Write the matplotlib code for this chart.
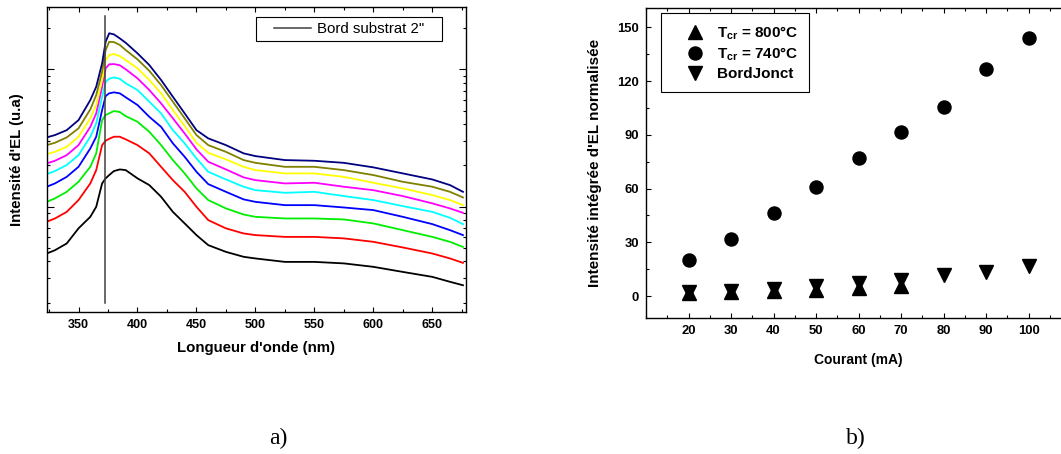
import numpy as np
import matplotlib
matplotlib.use("Agg")
import matplotlib.pyplot as plt
from matplotlib.patches import Rectangle
from matplotlib.ticker import MultipleLocator, LogLocator, NullFormatter

plt.rcParams['font.family'] = ['Liberation Sans', 'DejaVu Sans']
plt.rcParams['font.weight'] = 'bold'
plt.rcParams['mathtext.fontset'] = 'custom'
plt.rcParams['mathtext.rm'] = 'Liberation Sans:bold'
plt.rcParams['mathtext.bf'] = 'Liberation Sans:bold'

# --- a) spectres d'EL, log10 de l'intensité (u.a) ---
longueur_onde = [323, 330, 340, 350, 360, 365, 370, 373, 376, 380, 385, 390, 400, 410, 420,
                 430, 440, 450, 460, 475, 490, 500, 525, 550, 575, 600, 625, 650, 665, 676]

log_noir = [-0.341, -0.317, -0.268, -0.158, -0.074, -0.001, 0.169, 0.206, 0.230, 0.259,
            0.271, 0.266, 0.206, 0.157, 0.072, -0.038, -0.122, -0.207, -0.280, -0.329,
            -0.365, -0.377, -0.402, -0.402, -0.413, -0.438, -0.475, -0.511, -0.547, -0.572]
log_rouge = [-0.110, -0.086, -0.038, 0.048, 0.169, 0.266, 0.448, 0.480, 0.494, 0.509,
             0.509, 0.490, 0.448, 0.388, 0.290, 0.193, 0.108, -0.001, -0.098, -0.158,
             -0.195, -0.207, -0.220, -0.220, -0.231, -0.256, -0.297, -0.341, -0.377, -0.409]
log_vert = [0.035, 0.060, 0.108, 0.181, 0.290, 0.388, 0.630, 0.667, 0.679, 0.696,
            0.689, 0.659, 0.618, 0.545, 0.448, 0.339, 0.242, 0.133, 0.048, -0.013,
            -0.057, -0.074, -0.086, -0.086, -0.093, -0.122, -0.171, -0.220, -0.256, -0.293]
log_bleu = [0.145, 0.169, 0.217, 0.290, 0.424, 0.509, 0.703, 0.805, 0.825, 0.832,
            0.825, 0.796, 0.740, 0.654, 0.581, 0.461, 0.363, 0.254, 0.164, 0.108,
            0.053, 0.035, 0.011, 0.011, -0.006, -0.025, -0.074, -0.127, -0.171, -0.207]
log_cyan = [0.237, 0.259, 0.303, 0.375, 0.509, 0.606, 0.800, 0.909, 0.931, 0.941,
            0.931, 0.898, 0.849, 0.764, 0.679, 0.557, 0.461, 0.351, 0.254, 0.198,
            0.145, 0.120, 0.101, 0.108, 0.077, 0.048, 0.004, -0.038, -0.081, -0.127]
log_magenta = [0.315, 0.334, 0.375, 0.448, 0.581, 0.679, 0.873, 1.007, 1.036, 1.038,
               1.029, 1.000, 0.934, 0.849, 0.752, 0.643, 0.533, 0.417, 0.327, 0.271,
               0.213, 0.193, 0.169, 0.174, 0.145, 0.120, 0.077, 0.024, -0.013, -0.045]
log_jaune = [0.383, 0.399, 0.436, 0.509, 0.643, 0.740, 0.922, 1.067, 1.104, 1.111,
             1.096, 1.067, 1.007, 0.922, 0.825, 0.703, 0.587, 0.465, 0.392, 0.344,
             0.290, 0.266, 0.242, 0.242, 0.217, 0.174, 0.133, 0.084, 0.048, 0.011]
log_olive = [0.448, 0.465, 0.504, 0.570, 0.708, 0.812, 0.982, 1.140, 1.200, 1.198,
             1.177, 1.140, 1.072, 0.989, 0.885, 0.764, 0.643, 0.521, 0.448, 0.399,
             0.339, 0.319, 0.290, 0.290, 0.266, 0.230, 0.181, 0.145, 0.108, 0.067]
log_marine = [0.504, 0.521, 0.557, 0.630, 0.776, 0.873, 1.043, 1.200, 1.262, 1.254,
              1.225, 1.193, 1.116, 1.031, 0.922, 0.800, 0.679, 0.557, 0.497, 0.448,
              0.388, 0.368, 0.339, 0.334, 0.319, 0.286, 0.242, 0.198, 0.157, 0.108]

spectres = [log_noir, log_rouge, log_vert, log_bleu, log_cyan,
            log_magenta, log_jaune, log_olive, log_marine]
couleurs = ['#000000', '#ff0000', '#00ee00', '#0000ff', '#00ffff',
            '#ff00ff', '#ffff00', '#808000', '#000080']

bord_x = [372.6, 372.6]
bord_y = [0.2, 24.4]

# --- b) intensité intégrée vs courant ---
courant = [20, 30, 40, 50, 60, 70, 80, 90, 100]
i_740 = [20.1, 32.0, 46.1, 61.0, 76.8, 91.3, 105.3, 126.9, 144.1]
courant_800 = [20, 30, 40, 50, 60, 70]
i_800 = [1.7, 2.2, 2.8, 3.5, 4.5, 5.6]
i_bord = [2.1, 3.0, 3.9, 5.8, 7.3, 8.9, 11.7, 13.6, 17.0]

fig = plt.figure(figsize=(10.61, 4.54), dpi=100)

# ---------- a) ----------
ax1 = fig.add_axes([0.0440, 0.3121, 0.3949, 0.6718])
for s, c in zip(spectres, couleurs):
    ax1.plot(longueur_onde, 10 ** np.array(s), color=c, lw=1.3)
ax1.plot(bord_x, bord_y, color='#404040', lw=1.1, label='Bord substrat 2"')
ax1.set_yscale('log')
ax1.set_xlim(323, 678.3)
ax1.set_ylim(10 ** -0.769, 10 ** 1.451)
ax1.xaxis.set_major_locator(MultipleLocator(50))
ax1.xaxis.set_minor_locator(MultipleLocator(25))
ax1.yaxis.set_major_locator(LogLocator(base=10))
ax1.yaxis.set_minor_locator(LogLocator(base=10, subs=np.arange(2, 10)))
ax1.yaxis.set_major_formatter(NullFormatter())
ax1.yaxis.set_minor_formatter(NullFormatter())
ax1.tick_params(which='both', direction='in', top=True, right=True, width=0.8)
ax1.tick_params(which='major', axis='x', length=3.6, labelsize=9, pad=5)
ax1.tick_params(which='major', axis='y', length=5)
ax1.tick_params(which='minor', length=2.4)
for sp in ax1.spines.values():
    sp.set_linewidth(1.0)
ax1.set_xlabel("Longueur d'onde (nm)", fontsize=10.8, fontweight='bold', labelpad=7)
ax1.set_ylabel("Intensité d'EL (u.a)", fontsize=10.8, fontweight='bold', labelpad=13)

# cadre de légende dessiné à part (marges horizontales plus larges que verticales)
ax1.add_patch(Rectangle((0.4988, 0.8885), 0.4452, 0.0785, transform=ax1.transAxes,
                        facecolor='white', edgecolor='black', lw=0.8, zorder=4))
ax1.legend(loc='center', bbox_to_anchor=(0.7214, 0.9278), borderaxespad=0,
           frameon=False, prop={'family': 'Liberation Sans', 'weight': 'normal', 'size': 10.8},
           handlelength=2.5, handletextpad=0.4, borderpad=0.2).set_zorder(5)

# ---------- b) ----------
ax2 = fig.add_axes([0.6089, 0.2989, 0.4006, 0.6828])
ax2.plot(courant_800, i_800, ls='none', marker='^', ms=10, color='black',
         label=r'T$_{\mathbf{cr}}$ = 800°C')
ax2.plot(courant, i_740, ls='none', marker='o', ms=9.4, color='black',
         label=r'T$_{\mathbf{cr}}$ = 740°C')
ax2.plot(courant, i_bord, ls='none', marker='v', ms=10, color='black',
         label='BordJonct')
ax2.set_xlim(10, 110)
ax2.set_ylim(-12.4, 160.6)
ax2.xaxis.set_major_locator(MultipleLocator(10))
ax2.xaxis.set_minor_locator(MultipleLocator(5))
ax2.yaxis.set_major_locator(MultipleLocator(30))
ax2.yaxis.set_minor_locator(MultipleLocator(15))
ax2.set_xticks([20, 30, 40, 50, 60, 70, 80, 90, 100])
ax2.tick_params(which='both', direction='in', top=True, right=True, width=0.8)
ax2.tick_params(which='major', length=3.6, labelsize=9.4, pad=5)
ax2.tick_params(which='minor', length=2.4)
for sp in ax2.spines.values():
    sp.set_linewidth(1.0)
ax2.set_xlabel('Courant (mA)', fontsize=10, fontweight='bold', labelpad=11)
ax2.set_ylabel("Intensité intégrée d'EL normalisée", fontsize=11, fontweight='bold',
               labelpad=11)
leg2 = ax2.legend(loc='upper left', bbox_to_anchor=(0.0346, 0.984), borderaxespad=0,
                  fancybox=False, edgecolor='black', framealpha=1,
                  prop={'weight': 'bold', 'size': 11}, handlelength=3.0,
                  handletextpad=-0.1, labelspacing=0.22, borderpad=0.75)
leg2.get_frame().set_linewidth(0.8)

fig.text(0.262, 0.022, 'a)', family='Liberation Serif', fontweight='normal', fontsize=17,
         ha='center')
fig.text(0.807, 0.022, 'b)', family='Liberation Serif', fontweight='normal', fontsize=17,
         ha='center')

fig.savefig('out.png', dpi=100)
